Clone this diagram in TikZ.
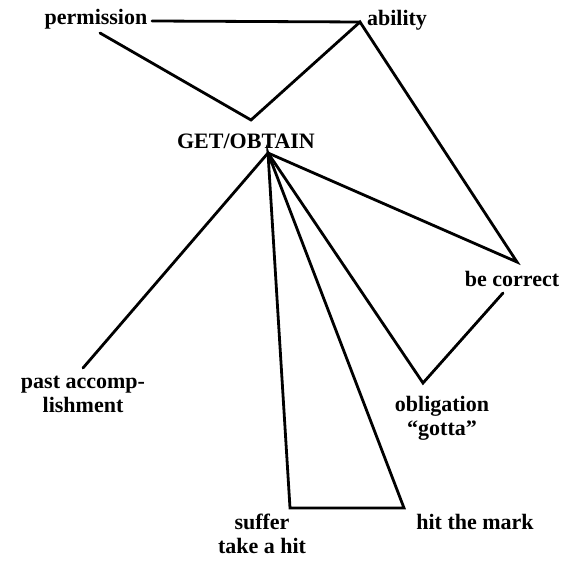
\documentclass[tikz,border=0pt]{standalone}
\usepackage{fontspec}
\setmainfont{Liberation Serif}
\begin{document}
\begin{tikzpicture}[x=1pt,y=-1pt,
  lbl/.style={font=\bfseries\fontsize{22}{24}\selectfont, inner sep=0pt, align=center, anchor=base},
  conn/.style={line width=2.8pt, line join=miter, line cap=round}]
\useasboundingbox (0,0) rectangle (566,561);
% labels (multi-line nodes: base = baseline of last line)
\node[lbl] (perm) at (96,25) {permission};
\node[lbl] (abil) at (397,26) {ability};
\node[lbl] (get)  at (246,149) {GET/OBTAIN};
\node[lbl] (becor) at (512,287) {be correct};
\node[lbl] (oblig) at (442,436) {obligation\\``gotta''};
\node[lbl] (past) at (83,413) {past accomp-\\lishment};
\node[lbl] (suff) at (262,554) {suffer\\take a hit};
\node[lbl] (hit)  at (475,530) {hit the mark};
% connector points
\coordinate (permEnd) at (152,21);
\coordinate (vAb) at (360,22);
\coordinate (pPerm) at (100,33);
\coordinate (vMid) at (251,120);
\coordinate (apex) at (268,153);
\coordinate (vBe) at (517,262);
\coordinate (beLow) at (503,293);
\coordinate (vObl) at (423,383);
\coordinate (vSuf) at (290,508);
\coordinate (vHit) at (404,508);
\coordinate (pPast) at (83,368);
% connectors
\draw[conn] (permEnd) -- (vAb);
\draw[conn] (pPerm) -- (vMid) -- (vAb) -- (vBe) -- (apex);
\draw[conn] (apex) -- (pPast);
\draw[conn] (apex) -- (vSuf) -- (vHit) -- cycle;
\draw[conn] (apex) -- (vObl) -- (beLow);
\end{tikzpicture}
\end{document}
